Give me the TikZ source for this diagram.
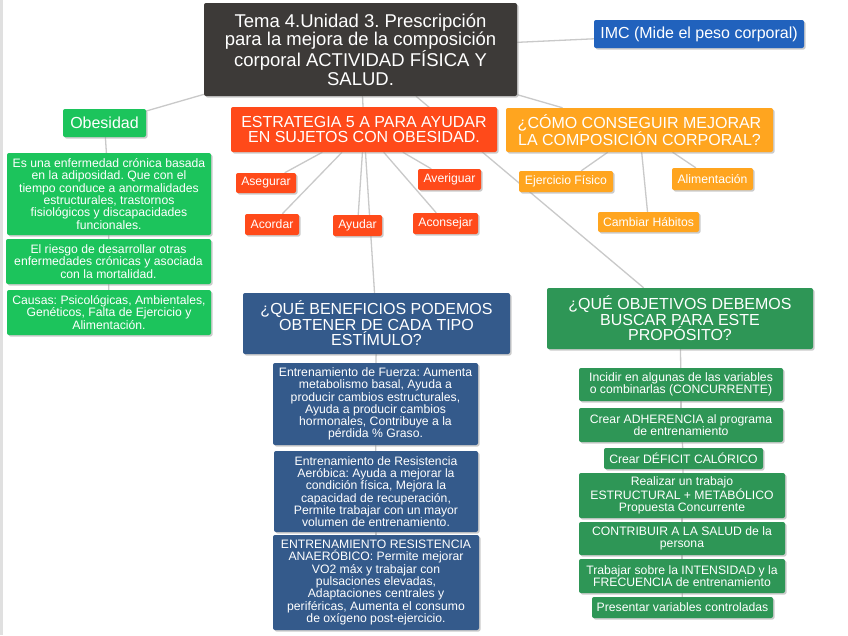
\documentclass[tikz,border=0pt]{standalone}
\usepackage{fontspec}
\setmainfont{Liberation Sans}
\usetikzlibrary{positioning,backgrounds,shadows}
\frenchspacing
\definecolor{titlegray}{HTML}{3D3A38}
\definecolor{imcblue}{HTML}{2162BD}
\definecolor{obgreen}{HTML}{1CC45C}
\definecolor{redorange}{HTML}{FF4A1A}
\definecolor{amber}{HTML}{FFA51F}
\definecolor{steelblue}{HTML}{345A8B}
\definecolor{goalgreen}{HTML}{2E9656}
\definecolor{linegray}{HTML}{C9C9C9}

\begin{document}
\begin{tikzpicture}[
  x=1pt, y=-1pt,
  every node/.style={text=white, align=center, inner sep=0pt},
  box/.style={rectangle, rounded corners=2pt,
              drop shadow={shadow xshift=1.5pt, shadow yshift=-1.5pt, fill=black!40, opacity=0.5}},
  dims/.style 2 args={minimum width=#1pt, minimum height=#2pt},
  bigtxt/.style={font=\fontsize{16}{15.5}\selectfont},
  smalltxt/.style={font=\fontsize{12.2}{12.3}\selectfont},
  link/.style={draw=linegray, line width=1.3pt}
]
  \useasboundingbox (0,0) rectangle (848,635);

  % main title and first level
  \node[box, fill=titlegray, dims={313}{93}, font=\fontsize{18.5}{18.5}\selectfont] (tema) at (360.5,49.5)
    {Tema 4.Unidad 3. Prescripción\\para la mejora de la composición\\corporal ACTIVIDAD FÍSICA Y\\SALUD.};
  \node[box, fill=imcblue, dims={210}{28}, bigtxt] (imc) at (699,34) {IMC (Mide el peso corporal)};
  \node[box, fill=obgreen, dims={83}{28}, bigtxt] (obes) at (104.5,123) {Obesidad};
  \node[box, fill=redorange, dims={266}{45}, bigtxt] (estr) at (364,129.5)
    {ESTRATEGIA 5 A PARA AYUDAR\\EN SUJETOS CON OBESIDAD.};
  \node[box, fill=amber, dims={267}{44}, bigtxt] (como) at (639.5,130)
    {¿CÓMO CONSEGUIR MEJORAR\\LA COMPOSICIÓN CORPORAL?};

  % obesidad
  \node[box, fill=obgreen, dims={204}{82}, smalltxt] (ob1) at (109,194)
    {Es una enfermedad crónica basada\\en la adiposidad. Que con el\\tiempo conduce a anormalidades\\estructurales, trastornos\\fisiológicos y discapacidades\\funcionales.};
  \node[box, fill=obgreen, dims={205}{45}, smalltxt] (ob2) at (108.5,261.5)
    {El riesgo de desarrollar otras\\enfermedades crónicas y asociada\\con la mortalidad.};
  \node[box, fill=obgreen, dims={204}{45}, smalltxt] (ob3) at (109,312.5)
    {Causas: Psicológicas, Ambientales,\\Genéticos, Falta de Ejercicio y\\Alimentación.};

  % las 5 A
  \node[box, fill=redorange, dims={60}{20}, smalltxt] (aseg) at (266,183) {Asegurar};
  \node[box, fill=redorange, dims={54}{21}, smalltxt] (acor) at (272,224.5) {Acordar};
  \node[box, fill=redorange, dims={49}{21}, smalltxt] (ayud) at (357.5,225.5) {Ayudar};
  \node[box, fill=redorange, dims={63}{21}, smalltxt] (aver) at (449.5,179.5) {Averiguar};
  \node[box, fill=redorange, dims={65}{21}, smalltxt] (acon) at (445.5,223.5) {Aconsejar};

  % como conseguir
  \node[box, fill=amber, dims={94}{21}, smalltxt] (ejer) at (566,181.5) {Ejercicio Físico};
  \node[box, fill=amber, dims={81}{22}, smalltxt] (alim) at (712.5,179) {Alimentación};
  \node[box, fill=amber, dims={101}{20}, smalltxt] (camb) at (648.5,222) {Cambiar Hábitos};

  % beneficios
  \node[box, fill=steelblue, dims={267}{61}, bigtxt] (benef) at (376.5,323.5)
    {¿QUÉ BENEFICIOS PODEMOS\\OBTENER DE CADA TIPO\\ESTÍMULO?};
  \node[box, fill=steelblue, dims={205}{82}, smalltxt] (bl1) at (375.5,404)
    {Entrenamiento de Fuerza: Aumenta\\metabolismo basal, Ayuda a\\producir cambios estructurales,\\Ayuda a producir cambios\\hormonales, Contribuye a la\\pérdida \% Graso.};
  \node[box, fill=steelblue, dims={204}{81}, smalltxt] (bl2) at (376,491.5)
    {Entrenamiento de Resistencia\\Aeróbica: Ayuda a mejorar la\\condición física, Mejora la\\capacidad de recuperación,\\Permite trabajar con un mayor\\volumen de entrenamiento.};
  \node[box, fill=steelblue, dims={206}{95}, smalltxt] (bl3) at (376,582.5)
    {ENTRENAMIENTO RESISTENCIA\\ANAERÓBICO: Permite mejorar\\VO2 máx y trabajar con\\pulsaciones elevadas,\\Adaptaciones centrales y\\periféricas, Aumenta el consumo\\de oxígeno post-ejercicio.};

  % objetivos
  \node[box, fill=goalgreen, dims={266}{61}, bigtxt] (objet) at (680,318.5)
    {¿QUÉ OBJETIVOS DEBEMOS\\BUSCAR PARA ESTE\\PROPÓSITO?};
  \node[box, fill=goalgreen, dims={204}{33}, smalltxt] (g1) at (681,384.5)
    {Incidir en algunas de las variables\\o combinarlas (CONCURRENTE)};
  \node[box, fill=goalgreen, dims={204}{34}, smalltxt] (g2) at (681,425)
    {Crear ADHERENCIA al programa\\de entrenamiento};
  \node[box, fill=goalgreen, dims={159}{21}, smalltxt] (g3) at (683.5,458.5) {Crear DÉFICIT CALÓRICO};
  \node[box, fill=goalgreen, dims={206}{45}, smalltxt] (g4) at (682,495.5)
    {Realizar un trabajo\\ESTRUCTURAL + METABÓLICO\\Propuesta Concurrente};
  \node[box, fill=goalgreen, dims={206}{33}, smalltxt] (g5) at (682,538.5)
    {CONTRIBUIR A LA SALUD de la\\persona};
  \node[box, fill=goalgreen, dims={206}{34}, smalltxt] (g6) at (682,576)
    {Trabajar sobre la INTENSIDAD y la\\FRECUENCIA de entrenamiento};
  \node[box, fill=goalgreen, dims={181}{21}, smalltxt] (g7) at (682.5,607.5) {Presentar variables controladas};

  \begin{scope}[on background layer]
    \fill[white] (0,0) rectangle (848,635);
    \draw[black!12, line width=3pt] (1.5,0) -- (1.5,635);
    \draw[link] (tema) -- (obes);
    \draw[link] (tema) -- (imc);
    \draw[link] (tema) -- (estr);
    \draw[link] (tema) -- (como);
    \draw[link] (tema) -- (objet);
    \draw[link] (obes) -- (ob1);
    \draw[link] (ob1) -- (ob2);
    \draw[link] (ob2) -- (ob3);
    \draw[link] (estr) -- (aseg);
    \draw[link] (estr) -- (acor);
    \draw[link] (estr) -- (ayud);
    \draw[link] (estr) -- (aver);
    \draw[link] (estr) -- (acon);
    \draw[link] (estr) -- (benef);
    \draw[link] (benef) -- (bl1);
    \draw[link] (bl1) -- (bl2);
    \draw[link] (bl2) -- (bl3);
    \draw[link] (como) -- (ejer);
    \draw[link] (como) -- (camb);
    \draw[link] (como) -- (alim);
    \draw[link] (objet) -- (g1);
    \draw[link] (g1) -- (g2);
    \draw[link] (g2) -- (g3);
    \draw[link] (g3) -- (g4);
    \draw[link] (g4) -- (g5);
    \draw[link] (g5) -- (g6);
    \draw[link] (g6) -- (g7);
  \end{scope}
\end{tikzpicture}
\end{document}
